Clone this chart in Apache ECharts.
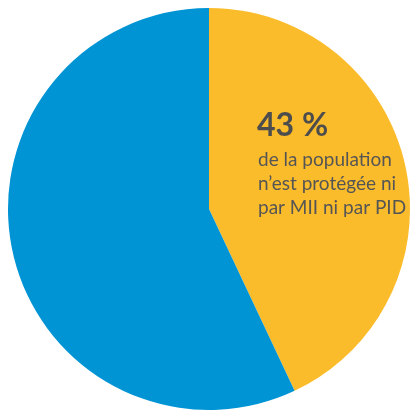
<!DOCTYPE html>
<html><head><meta charset="utf-8">
<script src="https://cdn.jsdelivr.net/npm/echarts@6/dist/echarts.min.js"></script>
<style>html,body{margin:0;padding:0;background:#fff}#c{width:410px;height:410px}</style>
</head><body><div id="c"></div>
<script>
var categories = ["Non protégée (ni MII ni PID)", "Protégée"];
var values = [43, 57];
var colors = ["#FBBC2C", "#0094D4"];
var headline = "43 %";
var caption = ["de la population", "n’est protégée ni", "par MII ni par PID"];

var chart = echarts.init(document.getElementById('c'));
chart.setOption({
  animation: false,
  series: [{
    type: 'pie',
    center: [209, 209],
    radius: [0, 201],
    startAngle: 90,
    clockwise: true,
    label: {show: false},
    labelLine: {show: false},
    itemStyle: {borderWidth: 0},
    emphasis: {disabled: true},
    data: categories.map(function(c, i){ return {name: c, value: values[i], itemStyle: {color: colors[i]}}; })
  }],
  graphic: [
    {type: 'text', z: 100, zlevel: 1, left: 257, top: 110, style: {text: headline, fontSize: 32, fontWeight: 'bold', fontFamily: 'Lato', fill: '#4D4D4D'}},
    {type: 'text', z: 100, zlevel: 1, left: 258, top: 148, style: {text: caption.join('\n'), fontSize: 19, fontFamily: 'Lato', lineHeight: 24, fill: '#555555'}}
  ]
});
</script></body></html>
